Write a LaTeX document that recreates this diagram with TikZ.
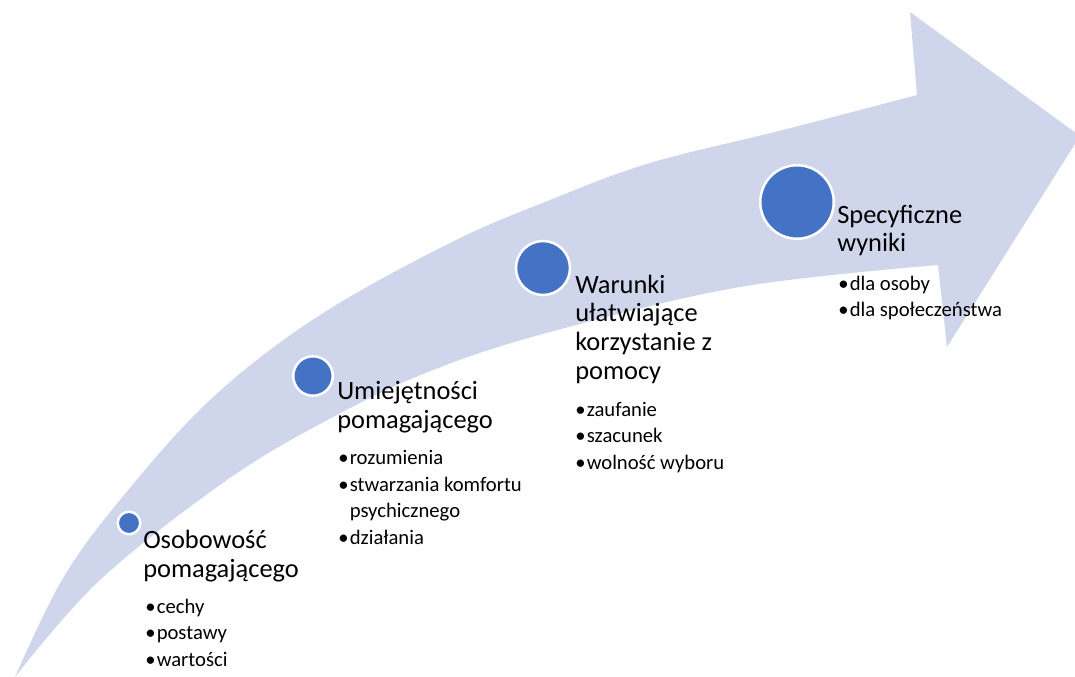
\documentclass[tikz,border=0pt]{standalone}
\usepackage{fontspec}
\setmainfont{Carlito}
\definecolor{arrowfill}{HTML}{CFD5EA}
\definecolor{stepblue}{HTML}{4472C4}
\newlength\pxu
\setlength\pxu{0.75pt}
\newcommand\bul{\makebox[11.5\pxu][l]{\textbullet}}
\newcommand\bulgap{\hspace*{11.5\pxu}}
\tikzset{
    stepdot/.style={circle, fill=stepblue, draw=white, line width=2.5\pxu, inner sep=0pt},
    steptitle/.style={anchor=base west, inner sep=0pt, align=left, font=\fontsize{19.8}{21.4}\selectfont},
    steplist/.style={anchor=base west, inner sep=0pt, align=left, font=\fontsize{15.5}{19.8}\selectfont}
}

\begin{document}
\begin{tikzpicture}[x=0.75pt, y=-0.75pt]
    \useasboundingbox (0,0) rectangle (1075,677);
    % curved arrow
    \fill[arrowfill] plot[smooth, tension=0.6] coordinates {(15,677) (62,580) (120,500) (210,400) (317,317) (450,243) (550,200) (650,163) (783,130) (917,95)}
        -- (910,12) -- (1080,136) -- (947,347) -- (938,265)
        -- plot[smooth, tension=0.6] coordinates {(938,265) (740,287) (550,332) (433,370) (333,417) (227,480) (100,580) (15,677)} -- cycle;
    % steps (base = last line)
    \node[stepdot, minimum size=22.5\pxu] (c1) at (129,523) {};
    \node[stepdot, minimum size=39.5\pxu] (c2) at (313,376) {};
    \node[stepdot, minimum size=54\pxu] (c3) at (543,268) {};
    \node[stepdot, minimum size=73.5\pxu] (c4) at (797,202) {};
    \node[steptitle] (t1) at (143,577) {Osobowość\\pomagającego};
    \node[steptitle] (t2) at (337,428) {Umiejętności\\pomagającego};
    \node[steptitle] (t3) at (575,379) {Warunki\\ułatwiające\\korzystanie z\\pomocy};
    \node[steptitle] (t4) at (837,252) {Specyficzne\\wyniki};
    \node[steplist] (l1) at (145,666) {\bul cechy\\\bul postawy\\\bul wartości};
    \node[steplist] (l2) at (338,544) {\bul rozumienia\\\bul stwarzania komfortu\\\bulgap psychicznego\\\bul działania};
    \node[steplist] (l3) at (575,469) {\bul zaufanie\\\bul szacunek\\\bul wolność wyboru};
    \node[steplist] (l4) at (838,317) {\bul dla osoby\\\bul dla społeczeństwa};
\end{tikzpicture}
\end{document}
